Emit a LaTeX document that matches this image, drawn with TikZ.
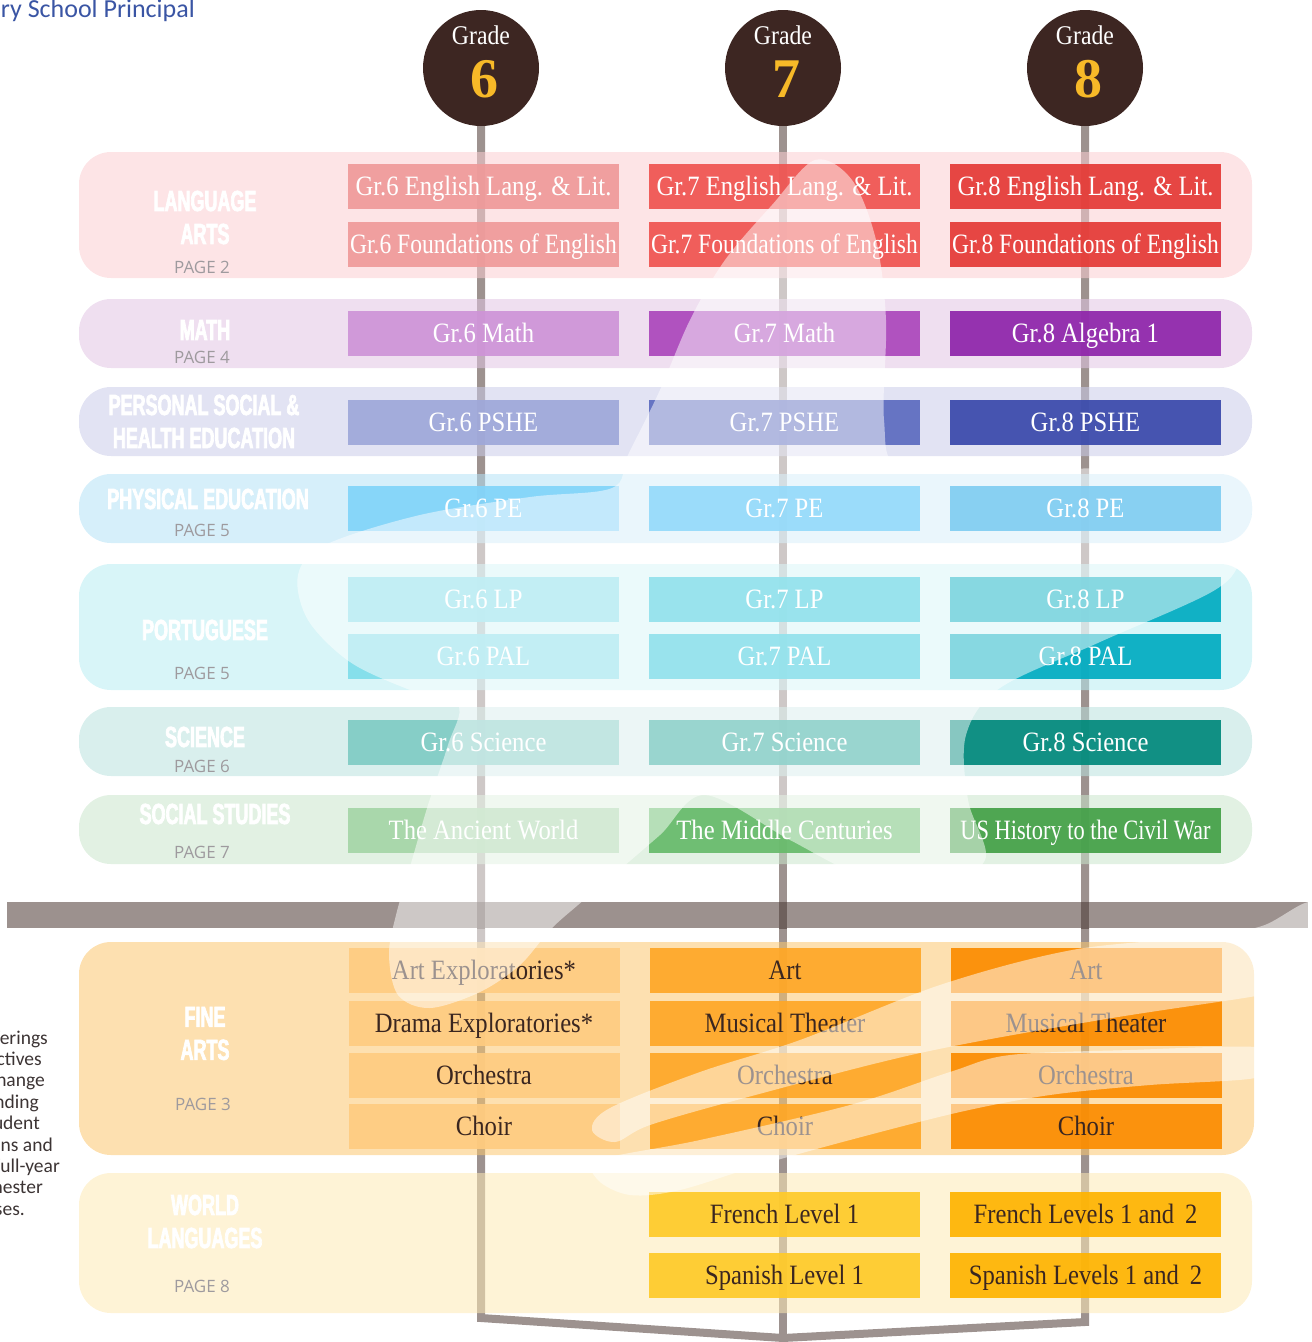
\documentclass[tikz,border=0pt]{standalone}
\usepackage{fontspec}
\setmainfont{Liberation Serif}
\newfontfamily\cellfont[FakeStretch=0.88]{Liberation Serif}
\newfontfamily\narrowfont[FakeStretch=0.84]{Liberation Serif}
\newfontfamily\tightfont[FakeStretch=0.80]{Liberation Serif}
\newfontfamily\catfont[FakeStretch=0.62,FakeBold=2.4]{Liberation Sans}
\newfontfamily\pagefont{Open Sans}
\newfontfamily\notefont{Carlito}
\usetikzlibrary{positioning}

\definecolor{stemgray}{HTML}{9D928F}
\definecolor{stemdark}{HTML}{6E605C}
\definecolor{bandgray}{HTML}{9C918E}
\definecolor{ballbrown}{HTML}{3D2622}
\definecolor{numgold}{HTML}{F7B928}
\definecolor{txtbrown}{HTML}{3A2620}
\definecolor{pagegray}{HTML}{9E9A9E}
\definecolor{headblue}{HTML}{3A55A4}
\definecolor{notegray}{HTML}{3C3434}
% panels
\definecolor{pla}{HTML}{FBCED2}
\definecolor{pma}{HTML}{E2C5E4}
\definecolor{pps}{HTML}{CACCE9}
\definecolor{ppe}{HTML}{B4E2F6}
\definecolor{ppo}{HTML}{B8EDF2}
\definecolor{psc}{HTML}{BAE2DE}
\definecolor{pss}{HTML}{CAE6CC}
\definecolor{pfa}{HTML}{FBC76F}
\definecolor{pwl}{HTML}{FDE9B5}
% cells
\definecolor{red2}{HTML}{EF9A9A}\definecolor{red4}{HTML}{EF5350}\definecolor{red6}{HTML}{E53935}
\definecolor{pur2}{HTML}{CE93D8}\definecolor{pur4}{HTML}{AB47BC}\definecolor{pur6}{HTML}{8E24AA}
\definecolor{ind2}{HTML}{9FA8DA}\definecolor{ind4}{HTML}{5C6BC0}\definecolor{ind6}{HTML}{3949AB}
\definecolor{lbl2}{HTML}{81D4FA}\definecolor{lbl4}{HTML}{29B6F6}\definecolor{lbl6}{HTML}{039BE5}
\definecolor{cya2}{HTML}{80DEEA}\definecolor{cya4}{HTML}{26C6DA}\definecolor{cya6}{HTML}{00ACC1}
\definecolor{tea2}{HTML}{80CBC4}\definecolor{tea4}{HTML}{26A69A}\definecolor{tea6}{HTML}{00897B}
\definecolor{grn2}{HTML}{A5D6A7}\definecolor{grn4}{HTML}{66BB6A}\definecolor{grn6}{HTML}{43A047}
\definecolor{ora2}{HTML}{FFCC80}\definecolor{ora4}{HTML}{FFA726}\definecolor{ora6}{HTML}{FB8C00}
\definecolor{amb4}{HTML}{FFCA28}\definecolor{amb6}{HTML}{FFB300}

\begin{document}
\begin{tikzpicture}[x=1pt, y=-1pt,
  panel/.style={fill=#1, fill opacity=0.55, rounded corners=32pt},
  cell/.style={fill=#1, fill opacity=0.92, text opacity=1, text=white,
    minimum width=271pt, minimum height=45pt, inner sep=0pt,
    text height=24pt, text depth=5.4pt,
    font=\cellfont\fontsize{28}{28}\selectfont},
  darkcell/.style={cell=#1, text=txtbrown},
  cat/.style={text=white, align=center, font=\catfont\bfseries\fontsize{29}{33}\selectfont},
  pagelbl/.style={text=pagegray, font=\pagefont\fontsize{17}{17}\selectfont},
  gradeball/.style={circle, fill=ballbrown, minimum size=116pt, inner sep=0pt},
  gradeword/.style={text=white, font=\cellfont\fontsize{27}{27}\selectfont},
  gradenum/.style={text=numgold, font=\bfseries\fontsize{56}{56}\selectfont},
  stem/.style={draw=stemgray, line width=8pt},
  shine/.style={fill=white, fill opacity=0.5},
  note/.style={text=notegray, anchor=base east, inner sep=0pt, font=\notefont\fontsize{19.5}{19.5}\selectfont}]

\useasboundingbox (0,0) rectangle (1312,1342);

% stems of the three grades
\coordinate (t6) at (481,68);
\coordinate (t7) at (783,68);
\coordinate (t8) at (1085,68);
\coordinate (b6) at (481,1318);
\coordinate (b8) at (1085,1322);
\coordinate (bv) at (783,1338);
\coordinate (b7) at (783,1350);
\draw[stem] (t6) -- (b6) -- (bv) -- (b8) -- (t8);
\draw[stem] (t7) -- (b7);

% subject panels
\fill[panel=pla] (79,152) rectangle (1252,278);
\fill[panel=pma] (79,299) rectangle (1252,368);
\fill[panel=pps] (79,387) rectangle (1252,456);
\fill[panel=ppe] (79,474) rectangle (1252,543);
\fill[panel=ppo] (79,564) rectangle (1252,690);
\fill[panel=psc] (79,707) rectangle (1252,776);
\fill[panel=pss] (79,795) rectangle (1252,864);
\fill[panel=pfa] (79,942) rectangle (1254,1155);
\fill[panel=pwl] (79,1173) rectangle (1252,1313);

\fill[bandgray] (7,902) rectangle (1308,928);
\begin{scope}
  \clip (7,902) rectangle (1308,928);
  \draw[stem, draw=stemdark] (t6) -- (b6) (t7) -- (b7) (t8) -- (b8);
\end{scope}

% grades
\node[gradeball] (g6) at (t6) {};
\node[gradeball] (g7) at (t7) {};
\node[gradeball] (g8) at (t8) {};
\node[gradeword] (gw6) at (481,35) {Grade};
\node[gradeword] (gw7) at (783,35) {Grade};
\node[gradeword] (gw8) at (1085,35) {Grade};
\node[gradenum] (gn6) at (484,79) {6};
\node[gradenum] (gn7) at (786,79) {7};
\node[gradenum] (gn8) at (1088,79) {8};

% language arts
\node[cell=red2] (la6a) at (483.5,186.5) {Gr.6 English Lang. \& Lit.};
\node[cell=red4] (la7a) at (784.5,186.5) {Gr.7 English Lang. \& Lit.};
\node[cell=red6] (la8a) at (1085.5,186.5) {Gr.8 English Lang. \& Lit.};
\node[cell=red2] (la6b) at (483.5,244) {\narrowfont Gr.6 Foundations of English};
\node[cell=red4] (la7b) at (784.5,244) {\narrowfont Gr.7 Foundations of English};
\node[cell=red6] (la8b) at (1085.5,244) {\narrowfont Gr.8 Foundations of English};
% math
\node[cell=pur2] (ma6) at (483.5,333) {Gr.6 Math};
\node[cell=pur4] (ma7) at (784.5,333) {Gr.7 Math};
\node[cell=pur6] (ma8) at (1085.5,333) {Gr.8 Algebra 1};
% pshe
\node[cell=ind2] (ps6) at (483.5,422) {Gr.6 PSHE};
\node[cell=ind4] (ps7) at (784.5,422) {Gr.7 PSHE};
\node[cell=ind6] (ps8) at (1085.5,422) {Gr.8 PSHE};
% pe
\node[cell=lbl2] (pe6) at (483.5,508) {Gr.6 PE};
\node[cell=lbl4] (pe7) at (784.5,508) {Gr.7 PE};
\node[cell=lbl6] (pe8) at (1085.5,508) {Gr.8 PE};
% portuguese
\node[cell=cya2] (po6a) at (483.5,599) {Gr.6 LP};
\node[cell=cya4] (po7a) at (784.5,599) {Gr.7 LP};
\node[cell=cya6] (po8a) at (1085.5,599) {Gr.8 LP};
\node[cell=cya2] (po6b) at (483.5,656) {Gr.6 PAL};
\node[cell=cya4] (po7b) at (784.5,656) {Gr.7 PAL};
\node[cell=cya6] (po8b) at (1085.5,656) {Gr.8 PAL};
% science
\node[cell=tea2] (sc6) at (483.5,742) {Gr.6 Science};
\node[cell=tea4] (sc7) at (784.5,742) {Gr.7 Science};
\node[cell=tea6] (sc8) at (1085.5,742) {Gr.8 Science};
% social studies
\node[cell=grn2] (ss6) at (483.5,830.5) {The Ancient World};
\node[cell=grn4] (ss7) at (784.5,830.5) {The Middle Centuries};
\node[cell=grn6] (ss8) at (1085.5,830.5) {\tightfont US History to the Civil War};
% fine arts
\node[darkcell=ora2] (fa6a) at (484,970.5) {Art Exploratories*};
\node[darkcell=ora2] (fa6b) at (484,1023.5) {Drama Exploratories*};
\node[darkcell=ora2] (fa6c) at (484,1075.5) {Orchestra};
\node[darkcell=ora2] (fa6d) at (484,1126.5) {Choir};
\node[darkcell=ora4] (fa7a) at (785,970.5) {Art};
\node[darkcell=ora4] (fa7b) at (785,1023.5) {Musical Theater};
\node[darkcell=ora4] (fa7c) at (785,1075.5) {Orchestra};
\node[darkcell=ora4] (fa7d) at (785,1126.5) {Choir};
\node[darkcell=ora6] (fa8a) at (1086,970.5) {Art};
\node[darkcell=ora6] (fa8b) at (1086,1023.5) {Musical Theater};
\node[darkcell=ora6] (fa8c) at (1086,1075.5) {Orchestra};
\node[darkcell=ora6] (fa8d) at (1086,1126.5) {Choir};
% world languages
\node[darkcell=amb4] (wl7a) at (784.5,1214.5) {French Level 1};
\node[darkcell=amb4] (wl7b) at (784.5,1275) {Spanish Level 1};
\node[darkcell=amb6] (wl8a) at (1085.5,1214.5) {French Levels 1 and \,2};
\node[darkcell=amb6] (wl8b) at (1085.5,1275) {Spanish Levels 1 and \,2};

% subject labels
\node[cat] (cla) at (205,217.5) {LANGUAGE\\ARTS};
\node[pagelbl] (pla) at (202,267) {PAGE 2};
\node[cat] (cma) at (205,330) {MATH};
\node[pagelbl] (pma) at (202,357) {PAGE 4};
\node[cat] (cps) at (204,421.5) {PERSONAL SOCIAL \&\\HEALTH EDUCATION};
\node[cat] (cpe) at (208,499) {PHYSICAL EDUCATION};
\node[pagelbl] (ppe) at (202,530) {PAGE 5};
\node[cat] (cpo) at (205,630) {PORTUGUESE};
\node[pagelbl] (ppo) at (202,673) {PAGE 5};
\node[cat] (csc) at (205,737) {SCIENCE};
\node[pagelbl] (psc) at (202,766) {PAGE 6};
\node[cat] (css) at (215,814) {SOCIAL STUDIES};
\node[pagelbl] (pss) at (202,852) {PAGE 7};
\node[cat] (cfa) at (205,1033.5) {FINE\\ARTS};
\node[pagelbl] (pfa) at (203,1104) {PAGE 3};
\node[cat] (cwl) at (205,1221.5) {WORLD\\LANGUAGES};
\node[pagelbl] (pwl) at (202,1286) {PAGE 8};

% translucent swirls
\fill[shine] plot[smooth cycle, tension=0.55] coordinates {
  (815,160) (852,180) (876,240) (886,320) (884,420) (900,468) (1000,470)
  (1150,468) (1238,476) (1252,505) (1242,555) (1215,590) (1100,642)
  (1000,688) (966,735) (968,800) (985,860) (930,885) (860,875) (790,840)
  (705,795) (660,835) (610,878) (578,905) (550,930) (520,965) (480,992)
  (430,1008) (398,995) (389,955) (396,915) (412,860) (428,805) (448,745)
  (458,705) (410,690) (350,662) (308,620) (298,575) (325,545) (420,515)
  (530,497) (612,488) (628,455) (660,390) (690,320) (725,260) (772,205)};
\fill[shine] plot[smooth cycle, tension=0.55] coordinates {
  (592,1130) (610,1108) (700,1072) (800,1040) (940,985) (1072,950)
  (1200,937) (1262,926) (1312,902) (1330,940) (1312,985) (1250,997)
  (1100,1020) (920,1053) (748,1097) (650,1125) (615,1142)};
\fill[shine] plot[smooth cycle, tension=0.55] coordinates {
  (600,1160) (700,1140) (850,1105) (950,1072) (1010,1055) (1130,1050)
  (1255,1047) (1262,1062) (1255,1078) (1150,1085) (1050,1095) (960,1112)
  (850,1140) (760,1165) (680,1190) (630,1195) (598,1180)};

% cut-off page texts
\node[text=headblue, anchor=base east, inner sep=0pt, font=\notefont\fontsize{26}{26}\selectfont]
  (head) at (195,17) {ry School Principal};
\foreach \txt/\xe [count=\i from 0] in {ferings/48, ctives/42, hange/45, nding/39,
    udent/40, ns and/53, full-year/60, nester/43, ses./25}
  \node[note] (note\i) at (\xe,1044+21.4*\i) {\txt};

\end{tikzpicture}
\end{document}
